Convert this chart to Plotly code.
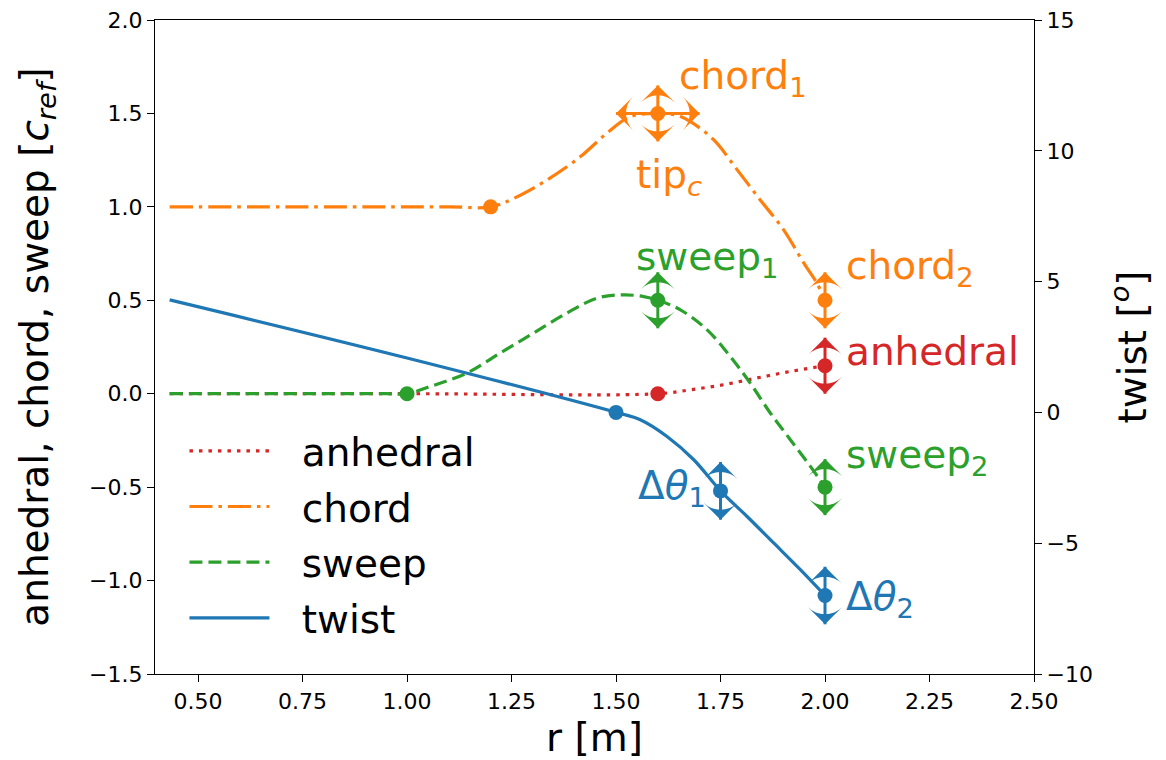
import plotly.graph_objects as go

# ---- curve readings (r [m], value) ----
r_anh = [0.432, 1.0, 1.6, 1.678, 1.757, 1.837, 1.917, 2.0]
anhedral = [0.0, 0.0, 0.0, 0.021, 0.048, 0.084, 0.119, 0.15]

r_chord = [0.432, 0.9, 1.1, 1.2, 1.255, 1.335, 1.415, 1.478, 1.534, 1.6, 1.646,
           1.678, 1.734, 1.790, 1.845, 1.901, 1.949, 1.981, 2.0]
chord = [1.0, 1.0, 1.0, 1.0, 1.045, 1.144, 1.269, 1.394, 1.483, 1.5, 1.49,
         1.456, 1.358, 1.198, 1.037, 0.877, 0.70, 0.59, 0.5]

r_sweep = [0.432, 0.8, 0.95, 1.0, 1.056, 1.144, 1.223, 1.303, 1.383, 1.455, 1.518,
           1.566, 1.6, 1.654, 1.718, 1.773, 1.821, 1.869, 1.917, 1.965, 2.0]
sweep = [0.0, 0.0, 0.0, 0.0, 0.039, 0.111, 0.218, 0.325, 0.432, 0.512, 0.529,
         0.52, 0.5, 0.449, 0.342, 0.2, 0.057, -0.103, -0.246, -0.389, -0.5]

r_twist = [0.432, 1.0, 1.5, 1.558, 1.622, 1.686, 1.75, 1.813, 1.877, 1.941, 2.0]
twist = [4.3, 2.08, 0.0, -0.28, -0.92, -1.81, -3.0, -3.97, -4.99, -6.01, -7.0]

# ---- design points ----
anh_pr = [1.6, 2.0]
anh_pv = [0.0, 0.15]
chord_pr = [1.2, 1.6, 2.0]
chord_pv = [1.0, 1.5, 0.5]
sweep_pr = [1.0, 1.6, 2.0]
sweep_pv = [0.0, 0.5, -0.5]
twist_pr = [1.5, 1.75, 2.0]
twist_pv = [0.0, -3.0, -7.0]

# ---- design-variable arrows (double headed) ----
varrow_r = [1.6, 2.0, 1.6, 2.0, 2.0]
varrow_v = [1.5, 0.5, 0.5, -0.5, 0.15]
varrow_h = [0.15, 0.15, 0.15, 0.15, 0.15]
varrow_c = ["#ff7f0e", "#ff7f0e", "#2ca02c", "#2ca02c", "#d62728"]
tarrow_r = [1.75, 2.0]
tarrow_v = [-3.0, -7.0]
tarrow_h = [1.1, 1.1]
harrow_r = [1.6]
harrow_v = [1.5]
harrow_h = [0.1]

labels = [
    ("chord<sub>1</sub>", 1.645, 1.69, "left", "#ff7f0e"),
    ("tip<sub><i>c</i></sub>", 1.627, 1.16, "center", "#ff7f0e"),
    ("sweep<sub>1</sub>", 1.543, 0.72, "left", "#2ca02c"),
    ("chord<sub>2</sub>", 2.046, 0.674, "left", "#ff7f0e"),
    ("anhedral", 2.046, 0.225, "left", "#d62728"),
    ("sweep<sub>2</sub>", 2.046, -0.337, "left", "#2ca02c"),
    ("Δ<i>θ</i><sub>1</sub>", 1.719, -0.503, "right", "#1f77b4"),
    ("Δ<i>θ</i><sub>2</sub>", 2.046, -1.10, "left", "#1f77b4"),
]

C_BLUE, C_ORANGE, C_GREEN, C_RED = "#1f77b4", "#ff7f0e", "#2ca02c", "#d62728"
LW = 3.2
FONT = "DejaVu Sans"
BIG = 39
PAD = "\u2002\u2009"

fig = go.Figure()
fig.add_trace(go.Scatter(x=r_anh, y=anhedral, mode="lines", name=PAD + "anhedral", legendgroup="a",
                         line=dict(color=C_RED, width=LW, dash="3.5px,6px", shape="spline", smoothing=1)))
fig.add_trace(go.Scatter(x=r_chord, y=chord, mode="lines", name=PAD + "chord", legendgroup="c",
                         line=dict(color=C_ORANGE, width=LW, dash="23px,6px,3.5px,6px", shape="spline", smoothing=1)))
fig.add_trace(go.Scatter(x=r_sweep, y=sweep, mode="lines", name=PAD + "sweep", legendgroup="s",
                         line=dict(color=C_GREEN, width=LW, dash="13px,6px", shape="spline", smoothing=1)))
fig.add_trace(go.Scatter(x=r_twist, y=twist, mode="lines", name=PAD + "twist", yaxis="y2", legendgroup="t",
                         line=dict(color=C_BLUE, width=LW, shape="spline", smoothing=1)))


def arrow_traces(rs, vs, hs, cols, ax, horizontal=False):
    traces = []
    for r, v, h, c in zip(rs, vs, hs, cols):
        if horizontal:
            xs, ys, angles = [r - h, r + h], [v, v], [270, 90]
        else:
            xs, ys, angles = [r, r], [v - h, v + h], [180, 0]
        traces.append(go.Scatter(
            x=xs, y=ys, mode="lines+markers", yaxis=ax, showlegend=False, hoverinfo="skip",
            line=dict(color=c, width=3),
            marker=dict(symbol="arrow-wide", size=24, angle=angles, color=c, line=dict(width=0))))
    return traces


for t in arrow_traces(varrow_r, varrow_v, varrow_h, varrow_c, "y"):
    fig.add_trace(t)
for t in arrow_traces(tarrow_r, tarrow_v, tarrow_h, [C_BLUE] * len(tarrow_r), "y2"):
    fig.add_trace(t)
for t in arrow_traces(harrow_r, harrow_v, harrow_h, [C_ORANGE], "y", horizontal=True):
    fig.add_trace(t)

for pr, pv, col, ax in [(anh_pr, anh_pv, C_RED, "y"), (chord_pr, chord_pv, C_ORANGE, "y"),
                        (sweep_pr, sweep_pv, C_GREEN, "y"), (twist_pr, twist_pv, C_BLUE, "y2")]:
    fig.add_trace(go.Scatter(x=pr, y=pv, mode="markers", showlegend=False, yaxis=ax,
                             marker=dict(color=col, size=15), hoverinfo="x+y"))

annotations = []
for txt, r, v, anchor, col in labels:
    annotations.append(dict(x=r, y=v, xref="x", yref="y", text=txt, showarrow=False,
                            xanchor=anchor, yanchor="middle", font=dict(family=FONT, size=BIG, color=col)))

axis_common = dict(showline=True, linecolor="black", linewidth=1.4, ticks="outside", ticklen=7,
                   tickwidth=1.4, tickcolor="black", showgrid=False, zeroline=False, automargin=False,
                   ticklabeloverflow="allow",
                   tickfont=dict(family=FONT, size=22, color="black"))

# page body has an 8px margin, so the figure is drawn 8px smaller and the plot box
# lands where the reference has it
fig.update_layout(
    width=1158, height=752,
    margin=dict(l=147, r=132, t=12, b=86),
    plot_bgcolor="white", paper_bgcolor="white",
    font=dict(family=FONT, color="black"),
    xaxis=dict(range=[0.397, 2.5], tickvals=[0.5, 0.75, 1.0, 1.25, 1.5, 1.75, 2.0, 2.25, 2.5],
               tickformat=".2f", mirror=True,
               title=dict(text="r [m]", font=dict(family=FONT, size=BIG), standoff=18), **axis_common),
    yaxis=dict(range=[-1.5, 2.0], tick0=-1.5, dtick=0.5, tickformat=".1f",
               title=dict(text="anhedral, chord, sweep [<i>c</i><sub><i>ref</i></sub>]",
                          font=dict(family=FONT, size=BIG), standoff=28), **axis_common),
    yaxis2=dict(range=[-10, 15], tick0=-10, dtick=5, overlaying="y", side="right",
                title=dict(text="twist [<sup><i>o</i></sup>]", font=dict(family=FONT, size=BIG), standoff=26),
                **axis_common),
    legend=dict(x=0.0335, y=0.39, xanchor="left", yanchor="top", bgcolor="rgba(0,0,0,0)",
                font=dict(family=FONT, size=BIG, color="black"), itemwidth=80, tracegroupgap=2),
    annotations=annotations,
    showlegend=True,
)

fig.write_html("out.html")
